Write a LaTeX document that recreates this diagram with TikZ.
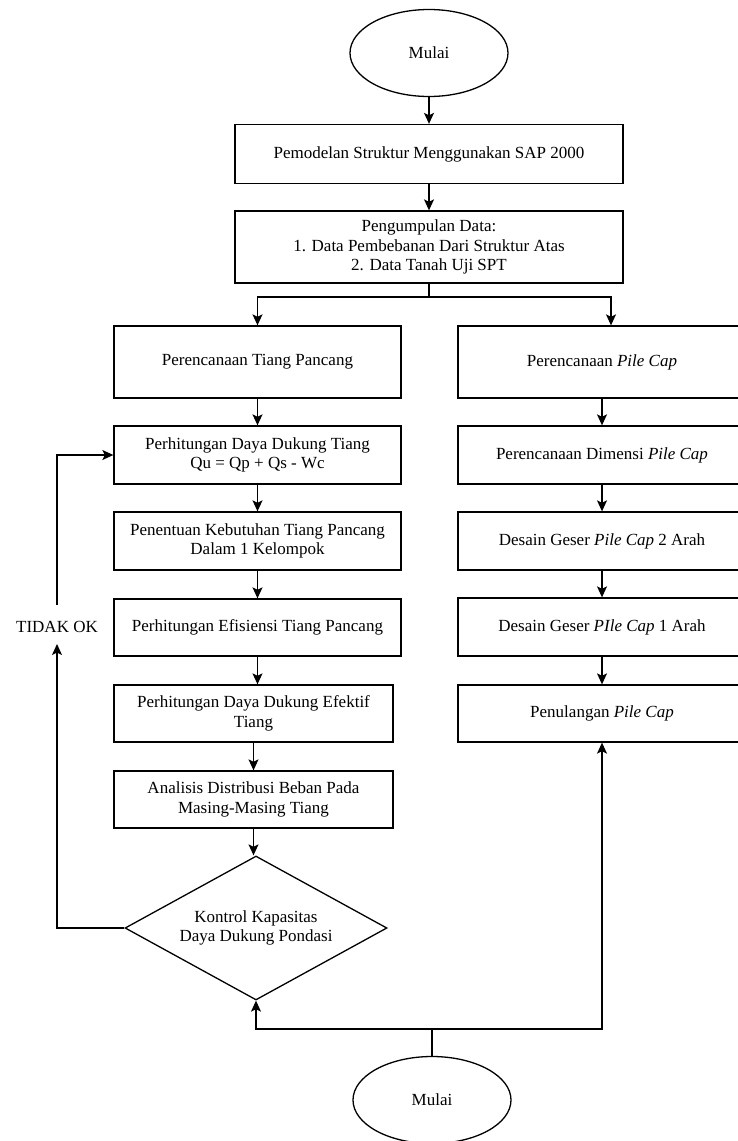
\documentclass[tikz,border=0pt]{standalone}
\usepackage{fontspec}
\setmainfont{Liberation Serif}
\newfontfamily\tnr{Liberation Serif}
\usetikzlibrary{shapes.geometric,arrows.meta}
\begin{document}
\begin{tikzpicture}[x=1pt,y=-1pt,
  font=\tnr\fontsize{17}{19.5}\selectfont,
  box/.style={draw,line width=1.3pt,inner sep=0pt,align=center},
  oval/.style={draw,ellipse,line width=1.3pt,inner sep=0pt,minimum width=158pt,minimum height=87pt},
  dec/.style={draw,diamond,shape aspect=1.82,line width=1.3pt,inner sep=0pt,align=center,minimum width=262pt,minimum height=144pt},
  ln/.style={line width=1.3pt},
  arr/.style={line width=1.3pt,-{Stealth[length=11pt,width=10pt,inset=2.5pt]}}]
\useasboundingbox (0,0) rectangle (738,1141);
\clip (0,0) rectangle (738,1141);

\node[oval] (start) at (429,53) {Mulai};
\node[box,minimum width=388pt,minimum height=59pt] (b1) at (429,154) {Pemodelan Struktur Menggunakan SAP 2000};
\node[box,minimum width=388pt,minimum height=72pt] (b2) at (429,247) {Pengumpulan Data:\\1. Data Pembebanan Dari Struktur Atas\\2. Data Tanah Uji SPT};

\node[box,minimum width=287pt,minimum height=72pt] (L1) at (257.5,362) {Perencanaan Tiang Pancang};
\node[box,minimum width=287pt,minimum height=58pt] (L2) at (257.5,455) {Perhitungan Daya Dukung Tiang\\Qu = Qp + Qs - Wc};
\node[box,minimum width=287pt,minimum height=58pt] (L3) at (257.5,541) {Penentuan Kebutuhan Tiang Pancang\\Dalam 1 Kelompok};
\node[box,minimum width=287pt,minimum height=57pt] (L4) at (257.5,627.5) {Perhitungan Efisiensi Tiang Pancang};
\node[box,minimum width=279pt,minimum height=57pt] (L5) at (253.5,713.5) {Perhitungan Daya Dukung Efektif\\Tiang};
\node[box,minimum width=279pt,minimum height=57pt] (L6) at (253.5,799.5) {Analisis Distribusi Beban Pada\\Masing-Masing Tiang};
\node[dec] (D) at (256,928) {Kontrol Kapasitas\\Daya Dukung Pondasi};

\node[box,minimum width=288pt,minimum height=72pt] (R1) at (602,362) {Perencanaan \textit{Pile Cap}};
\node[box,minimum width=288pt,minimum height=58pt] (R2) at (602,455) {Perencanaan Dimensi \textit{Pile Cap}};
\node[box,minimum width=288pt,minimum height=58pt] (R3) at (602,541) {Desain Geser \textit{Pile Cap} 2 Arah};
\node[box,minimum width=288pt,minimum height=58pt] (R4) at (602,627) {Desain Geser \textit{PIle Cap} 1 Arah};
\node[box,minimum width=288pt,minimum height=57pt] (R5) at (602,713.5) {Penulangan \textit{Pile Cap}};

\node[oval] (end) at (432,1100) {Mulai};
\node (lbl) at (57,627) {TIDAK OK};

\coordinate (sp) at (429,297);
\coordinate (bp) at (432,1029);
\coordinate (fbB) at (57,644);
\coordinate (fbT) at (57,605);

\draw[arr] (start.south) -- (b1.north);
\draw[arr] (b1.south) -- (b2.north);
\draw[ln] (b2.south) -- (sp);
\draw[arr] (sp) -| (L1.north);
\draw[arr] (sp) -| ([xshift=9pt]R1.north);

\draw[arr] (L1.south) -- (L1.south |- L2.north);
\draw[arr] (L2.south) -- (L2.south |- L3.north);
\draw[arr] (L3.south) -- (L3.south |- L4.north);
\draw[arr] (L4.south) -- (L4.south |- L5.north);
\draw[arr] (L5.south) -- (L5.south |- L6.north);
\draw[arr] (L6.south) -- (L6.south |- D.north);

\draw[arr] (R1.south) -- (R1.south |- R2.north);
\draw[arr] (R2.south) -- (R2.south |- R3.north);
\draw[arr] (R3.south) -- (R3.south |- R4.north);
\draw[arr] (R4.south) -- (R4.south |- R5.north);

\draw[arr] (D.west) -| (fbB);
\draw[arr] (fbT) |- (L2.west);

\draw[ln] (end.north) -- (bp);
\draw[arr] (bp) -| (D.south);
\draw[arr] (bp) -| (R5.south);
\end{tikzpicture}
\end{document}
